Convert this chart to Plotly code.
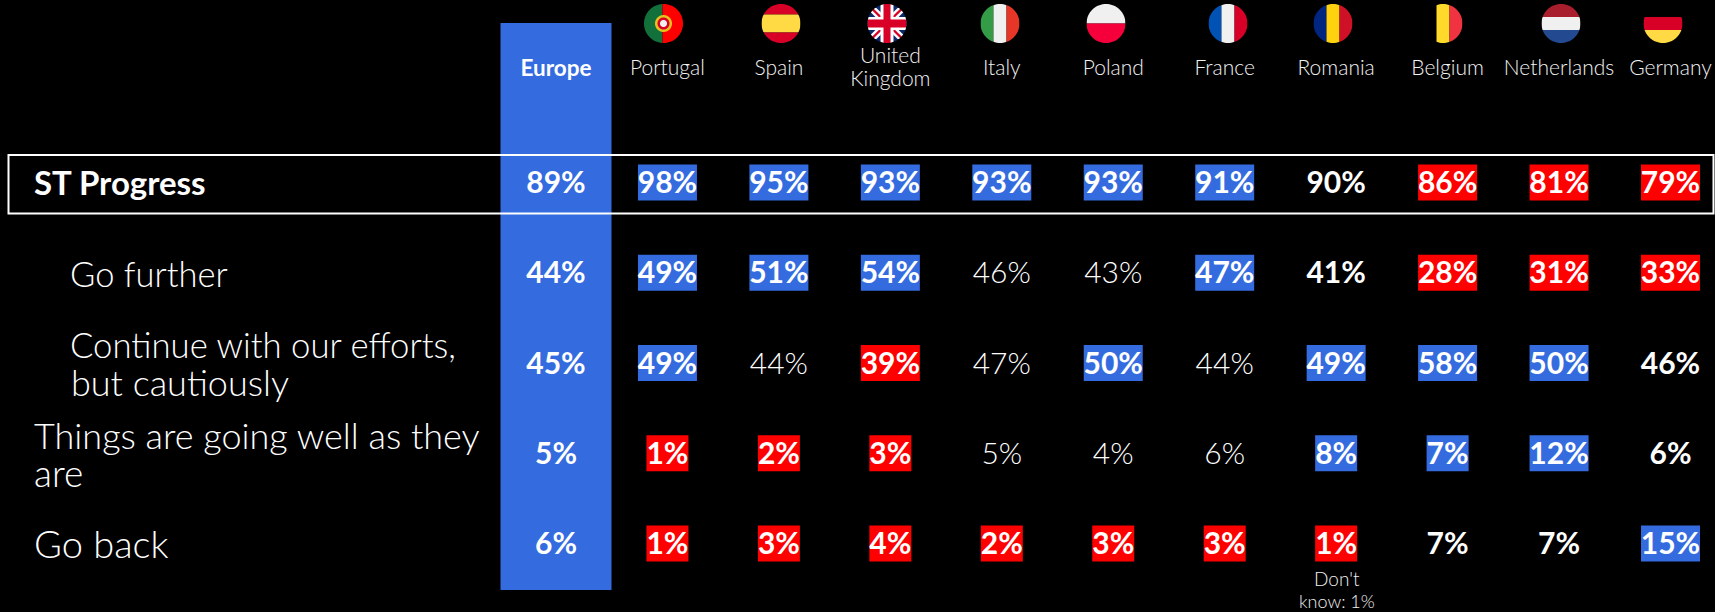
import math
import plotly.graph_objects as go

# ---------- data ----------
columns = ["Europe", "Portugal", "Spain", "United Kingdom", "Italy", "Poland",
           "France", "Romania", "Belgium", "Netherlands", "Germany"]
st_progress = [89, 98, 95, 93, 93, 93, 91, 90, 86, 81, 79]
go_further = [44, 49, 51, 54, 46, 43, 47, 41, 28, 31, 33]
continue_cautiously = [45, 49, 44, 39, 47, 50, 44, 49, 58, 50, 46]
going_well = [5, 1, 2, 3, 5, 4, 6, 8, 7, 12, 6]
go_back = [6, 1, 3, 4, 2, 3, 3, 1, 7, 7, 15]
rows = [st_progress, go_further, continue_cautiously, going_well, go_back]

# significance flags: 1 = above, -1 = below, 0 = none
flag_st = [0, 1, 1, 1, 1, 1, 1, 0, -1, -1, -1]
flag_further = [0, 1, 1, 1, 0, 0, 1, 0, -1, -1, -1]
flag_cont = [0, 1, 0, -1, 0, 1, 0, 1, 1, 1, 0]
flag_well = [0, -1, -1, -1, 0, 0, 0, 1, 1, 1, 0]
flag_back = [0, -1, -1, -1, -1, -1, -1, -1, 0, 0, 1]
flags = [flag_st, flag_further, flag_cont, flag_well, flag_back]

# columns printed in the light weight when no highlight applies
light_columns = ["Spain", "Italy", "Poland", "France"]

# ---------- style ----------
W, H = 1715, 612
BLUE, RED = "#346CE0", "#FF0000"
FONT = "Lato"
X0, DX = 556, 111.45       # pixel of column 0, pixels per column
Y0, DY = 182.5, 90.25      # pixel of row 0 (cell centre), pixels per row
TEXT_SHIFT = 3 / DY        # digits sit a little below the cell centre
PCT_SIZE = 30
LBL_SIZE = 21


def px(p):
    return (p - X0) / DX


def py(p):
    return (p - Y0) / DY


fig = go.Figure()

# Europe column
fig.add_trace(go.Bar(x=[0], base=[py(23)], y=[py(590) - py(23)], width=[111 / DX],
                     marker=dict(color=BLUE, line_width=0), hoverinfo="skip"))

# highlighted cells
bx, by, bb, bw, bc = [], [], [], [], []
for r, (vals, fl) in enumerate(zip(rows, flags)):
    for c, (v, f) in enumerate(zip(vals, fl)):
        if f:
            bx.append(c)
            bb.append(r - 18 / DY)
            by.append(36 / DY)
            bw.append((59 if v >= 10 else 42) / DX)
            bc.append(BLUE if f > 0 else RED)
fig.add_trace(go.Bar(x=bx, base=bb, y=by, width=bw,
                     marker=dict(color=bc, line_width=0), hoverinfo="skip"))

# percentages
tx, ty, tt, tw = [], [], [], []
for r, (vals, fl) in enumerate(zip(rows, flags)):
    for c, (v, f) in enumerate(zip(vals, fl)):
        tx.append(c)
        ty.append(r + TEXT_SHIFT)
        tt.append(f"{v}%")
        tw.append(300 if (f == 0 and columns[c] in light_columns) else 700)
fig.add_trace(go.Scatter(x=tx, y=ty, text=tt, mode="text", textposition="middle center",
                         textfont=dict(family=FONT, size=PCT_SIZE, color="white", weight=tw),
                         hoverinfo="skip"))

# column headers (two-word name set on two tight lines)
hx, hy, ht = [], [], []
for c, name in enumerate(columns[1:], start=1):
    if name == "United Kingdom":
        hx += [c, c]
        hy += [py(58), py(81)]
        ht += name.split(" ")
    else:
        hx.append(c)
        hy.append(py(70))
        ht.append(name)
fig.add_trace(go.Scatter(x=hx, y=hy, text=ht, mode="text", textposition="middle center",
                         textfont=dict(family=FONT, size=LBL_SIZE, color="#F2F2F2", weight=300),
                         hoverinfo="skip"))
fig.add_trace(go.Scatter(x=[0], y=[py(70)], text=columns[:1], mode="text",
                         textposition="middle center",
                         textfont=dict(family=FONT, size=22.5, color="white", weight=700),
                         hoverinfo="skip"))

# row labels: text, left px, centre px, size, weight
row_lines = [("ST Progress", 32, 182, 33, 700), ("Go further", 68, 273, 34.5, 300),
             ("Continue with our efforts,", 68, 344, 34.7, 300), ("but cautiously", 69, 382, 36, 300),
             ("Things are going well as they", 32, 435, 36, 300), ("are", 32, 472, 37, 300),
             ("Go back", 32, 543, 38, 300)]
for text, x, y, size, w in row_lines:
    fig.add_annotation(x=x / W, y=1 - y / H, xref="paper", yref="paper", text=text,
                       xanchor="left", yanchor="middle", showarrow=False, align="left",
                       font=dict(family=FONT, size=size, color="white", weight=w))

# footnote
for text, y, size in (("Don't", 578, 19), ("know: 1%", 601, 18)):
    fig.add_annotation(x=1337 / W, y=1 - y / H, xref="paper", yref="paper", text=text,
                       xanchor="center", yanchor="middle", showarrow=False,
                       font=dict(family=FONT, size=size, color="#F0F0F0", weight=300))

# ---------- flags (drawn in pixel space through the paper reference) ----------
R = 19.5
FY = 23.5


def fx(p):
    return p / W


def fy(p):
    return 1 - p / H


def poly(points, color):
    d = "M " + " L ".join(f"{fx(x):.5f},{fy(y):.5f}" for x, y in points) + " Z"
    return dict(type="path", xref="paper", yref="paper", path=d, fillcolor=color,
                line_width=0, layer="above")


def rect(x0, y0, x1, y1, color):
    return poly([(x0, y0), (x1, y0), (x1, y1), (x0, y1)], color)


def vstripes(cx, colors):
    n = len(colors)
    return [rect(cx - R + 2 * R * i / n, FY - R, cx - R + 2 * R * (i + 1) / n, FY + R, col)
            for i, col in enumerate(colors)]


def hstripes(cx, colors, stops=None):
    n = len(colors)
    stops = stops or [i / n for i in range(n + 1)]
    return [rect(cx - R, FY - R + 2 * R * stops[i], cx + R, FY - R + 2 * R * stops[i + 1], col)
            for i, col in enumerate(colors)]


def diag(cx, sx, t, col):
    e = 0.8 * R
    a, b = (cx - sx * e, FY - e), (cx + sx * e, FY + e)
    return poly([(a[0] + t, a[1]), (b[0] + t, b[1]), (b[0] - t, b[1]), (a[0] - t, a[1])], col)


def uk(cx):
    out = [rect(cx - R, FY - R, cx + R, FY + R, "#0B2A6B")]
    for s in (1, -1):
        out.append(diag(cx, s, 5, "white"))
    for s in (1, -1):
        out.append(diag(cx, s, 1.6, "#D80027"))
    out.append(rect(cx - R, FY - 6.5, cx + R, FY + 6.5, "white"))
    out.append(rect(cx - 6.5, FY - R, cx + 6.5, FY + R, "white"))
    out.append(rect(cx - R, FY - 4, cx + R, FY + 4, "#D80027"))
    out.append(rect(cx - 3.5, FY - R, cx + 3.5, FY + R, "#D80027"))
    return out


def circle(cx, cy, r, reverse=False):
    angles = [2 * math.pi * i / 72 for i in range(72)]
    if reverse:
        angles = angles[::-1]
    return [(cx + r * math.cos(a), cy + r * math.sin(a)) for a in angles]


def mask(cx):
    # black square with a round hole: gives every flag its round outline
    e = R + 3
    outer = [(cx - e, FY - e), (cx + e, FY - e), (cx + e, FY + e), (cx - e, FY + e)]
    inner = circle(cx, FY, R, reverse=True)
    to_d = lambda pts: "M " + " L ".join(f"{fx(x):.5f},{fy(y):.5f}" for x, y in pts) + " Z"
    return dict(type="path", xref="paper", yref="paper", path=to_d(outer) + " " + to_d(inner),
                fillcolor="black", line_width=0, layer="above")


shapes = []
# Portugal
cx = 663.5
shapes += [rect(cx - R, FY - R, cx - 1, FY + R, "#12703A"), rect(cx - 1, FY - R, cx + R, FY + R, "#FF0000"),
           poly(circle(cx, FY, 8.5), "#E5C21D"), poly(circle(cx, FY, 6), "#D80027"),
           poly(circle(cx, FY, 3.5), "#F0F0F0"), mask(cx)]
# Spain
cx = 781
shapes += hstripes(cx, ["#D80027", "#FFDA44", "#D80027"], [0, 0.27, 0.73, 1]) + [mask(cx)]
# United Kingdom
cx = 887
shapes += uk(cx) + [mask(cx)]
# Italy
cx = 1000
shapes += vstripes(cx, ["#349C46", "#F0F0F0", "#E63627"]) + [mask(cx)]
# Poland
cx = 1106
shapes += hstripes(cx, ["#F0F0F0", "#F5003A"]) + [mask(cx)]
# France
cx = 1228
shapes += vstripes(cx, ["#0052B4", "#F0F0F0", "#D80027"]) + [mask(cx)]
# Romania
cx = 1333
shapes += vstripes(cx, ["#00267F", "#FFD20F", "#CE1126"]) + [mask(cx)]
# Belgium
cx = 1443
shapes += vstripes(cx, ["#000000", "#FFDA2A", "#EF3340"]) + [mask(cx)]
# Netherlands
cx = 1561
shapes += hstripes(cx, ["#A91E2D", "#F0F0F0", "#234A90"]) + [mask(cx)]
# Germany
cx = 1663
shapes += hstripes(cx, ["#000000", "#D80027", "#FFDA44"]) + [mask(cx)]

# highlighted ST Progress frame
shapes.append(dict(type="rect", xref="paper", yref="paper", x0=fx(8.5), x1=fx(1713.5),
                   y0=fy(155), y1=fy(213.5), line=dict(color="white", width=2),
                   fillcolor="rgba(0,0,0,0)", layer="above"))

fig.update_layout(
    width=W, height=H, margin=dict(l=0, r=0, t=0, b=0), showlegend=False,
    paper_bgcolor="black", plot_bgcolor="black", barmode="overlay", shapes=shapes,
    xaxis=dict(range=[px(0), px(W)], visible=False, fixedrange=True),
    yaxis=dict(range=[py(H), py(0)], visible=False, fixedrange=True),
)
fig.write_html("out.html", config={"displayModeBar": False},
               post_script="document.body.style.margin='0';document.body.style.background='black';"
                           "document.body.style.overflow='hidden';")
